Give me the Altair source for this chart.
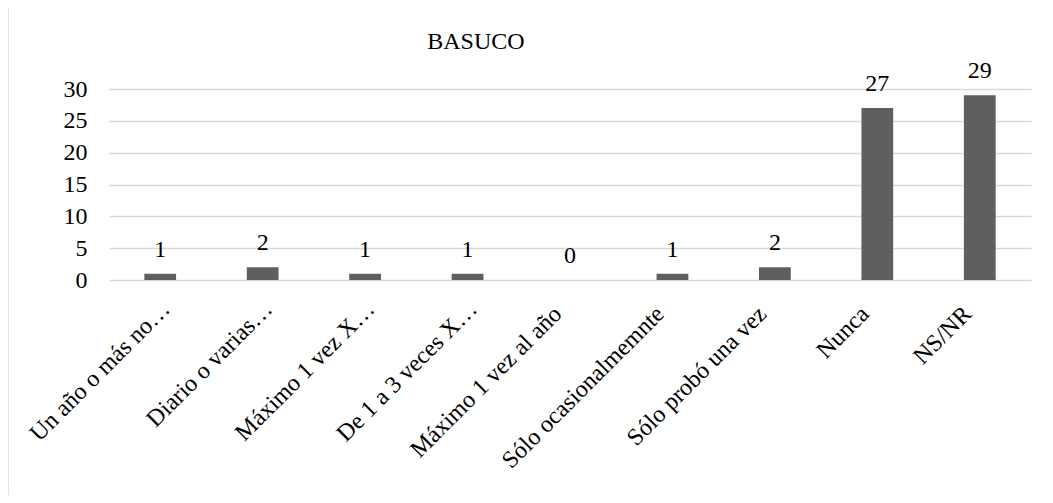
import altair as alt
import pandas as pd

categories = ["Un año o más no…", "Diario o varias…", "Máximo 1 vez X…", "De 1 a 3 veces X…",
              "Máximo 1 vez al año", "Sólo ocasionalmemnte", "Sólo probó una vez", "Nunca", "NS/NR"]
values = [1, 2, 1, 1, 0, 1, 2, 27, 29]
yticks = [0, 5, 10, 15, 20, 25, 30]

df = pd.DataFrame({"cat": categories, "val": values})
FONT = "Liberation Serif"
TRUNC = "slice(datum.label, -1) == '…'"

xenc = alt.X("cat:N", sort=categories, title=None,
             scale=alt.Scale(paddingInner=0.69, paddingOuter=0.345),
             axis=alt.Axis(labelAngle=-45, labelAlign="right", labelBaseline="middle",
                           labelPadding={"condition": {"test": TRUNC, "value": 25}, "value": 30},
                           labelOffset={"condition": {"test": TRUNC, "value": 6}, "value": -12}))
yenc = alt.Y("val:Q", title=None,
             scale=alt.Scale(domain=[0, 30], nice=False),
             axis=alt.Axis(values=yticks))

bars = alt.Chart(df).mark_bar(color="#5f5f5f").encode(x=xenc, y=yenc)
labels = alt.Chart(df).mark_text(font=FONT, fontSize=24, color="#000000",
                                 baseline="alphabetic", dy=-17).encode(
    x=alt.X("cat:N", sort=categories), y=alt.Y("val:Q"), text="val:Q")

border = alt.Chart(pd.DataFrame({"a": [0]})).mark_rect(
    fill=None, stroke="#d9d9d9", strokeWidth=1.5).encode(
    x=alt.value(-101), x2=alt.value(1080), y=alt.value(-83), y2=alt.value(440))

chart = alt.layer(border, bars, labels).properties(
    width=922, height=191,
    padding={"left": 101, "top": 81, "right": 14, "bottom": 215},
    autosize=alt.AutoSizeParams(type="none"),
    title=alt.TitleParams("BASUCO", anchor="start", dx=420, dy=49, offset=0,
                          font=FONT, fontSize=24, fontWeight="normal", color="#000000")
).configure_view(stroke=None).configure_axis(
    ticks=False, domain=False, labelFont=FONT, labelColor="#000000",
    labelOverlap=False, labelLimit=400, gridColor="#d9d9d9", gridWidth=1.5
).configure_axisX(labelFontSize=24, grid=False).configure_axisY(
    labelFontSize=24, labelPadding=22, tickCount=7)

chart.save("out.html", embed_options={"renderer": "svg", "actions": False})
